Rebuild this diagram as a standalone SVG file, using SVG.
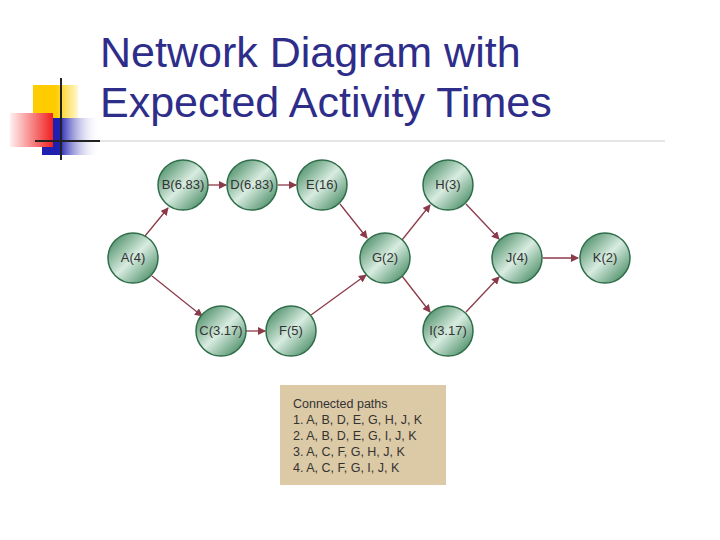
<svg xmlns="http://www.w3.org/2000/svg" width="720" height="540" viewBox="0 0 720 540">
<style>
.t{font-family:"Liberation Sans",Arial,sans-serif;fill:#333;font-size:13px;text-anchor:middle}
.c{fill:url(#g);stroke:#2f6e4a;stroke-width:1.5}
.e{stroke:#8b3a4a;stroke-width:1.3;fill:none;marker-end:url(#m)}
.p{font-family:"Liberation Sans",Arial,sans-serif;fill:#333;font-size:12.5px}
</style>
<defs>
<linearGradient id="g" x1="0" y1="0" x2="1" y2="1">
<stop offset="0" stop-color="#2e7a4e"/><stop offset="0.5" stop-color="#d8ece0"/><stop offset="1" stop-color="#2e7a4e"/></linearGradient>
<linearGradient id="rd" x1="1" y1="0" x2="0" y2="0"><stop offset="0" stop-color="#f02020"/><stop offset="1" stop-color="#fff0f0"/></linearGradient>
<linearGradient id="bl" x1="0" y1="0" x2="1" y2="0"><stop offset="0.3" stop-color="#2020b0"/><stop offset="1" stop-color="#fff" stop-opacity="0"/></linearGradient>
<linearGradient id="yl" x1="0" y1="0" x2="1" y2="0"><stop offset="0.5" stop-color="#ffcc00"/><stop offset="1" stop-color="#fff8d0"/></linearGradient>
<marker id="m" markerWidth="8" markerHeight="8" refX="7" refY="4" orient="auto" markerUnits="userSpaceOnUse"><path d="M0,0L8,4L0,8z" fill="#8b3a4a"/></marker>
</defs>
<rect x="33" y="85" width="45" height="33" fill="url(#yl)"/>
<rect x="42" y="118" width="58" height="37" fill="url(#bl)"/>
<rect x="10" y="113" width="43" height="34" fill="url(#rd)"/>
<line x1="61" y1="78" x2="61" y2="160" stroke="#222" stroke-width="2"/>
<line x1="35" y1="141" x2="100" y2="141" stroke="#222" stroke-width="2"/>
<line x1="100" y1="141" x2="665" y2="141" stroke="#ccc" stroke-width="1"/>
<text x="100" y="67" font-family="Liberation Sans,Arial,sans-serif" font-size="43" fill="#2e2e8a">Network Diagram with</text>
<text x="100" y="117" font-family="Liberation Sans,Arial,sans-serif" font-size="43" fill="#2e2e8a">Expected Activity Times</text>
<g id="edges">
<path class="e" d="M145,236L168,208"/>
<path class="e" d="M208,185L226,185"/>
<path class="e" d="M278,185L296,185"/>
<path class="e" d="M340,204L367,238"/>
<path class="e" d="M152,276L202,316"/>
<path class="e" d="M246,331L265,331"/>
<path class="e" d="M311,315L366,275"/>
<path class="e" d="M402,240L430,205"/>
<path class="e" d="M402,276L430,312"/>
<path class="e" d="M466,204L499,239"/>
<path class="e" d="M466,312L499,277"/>
<path class="e" d="M543,258L578,258"/>
</g>
<g id="A"><circle class="c" cx="133" cy="258" r="25"/><text class="t" x="133" y="262">A(4)</text></g>
<g id="B"><circle class="c" cx="183" cy="185" r="25"/><text class="t" x="183" y="189">B(6.83)</text></g>
<g id="D"><circle class="c" cx="252" cy="185" r="25"/><text class="t" x="252" y="189">D(6.83)</text></g>
<g id="E"><circle class="c" cx="322" cy="185" r="25"/><text class="t" x="322" y="189">E(16)</text></g>
<g id="G"><circle class="c" cx="385" cy="258" r="25"/><text class="t" x="385" y="262">G(2)</text></g>
<g id="H"><circle class="c" cx="448" cy="185" r="25"/><text class="t" x="448" y="189">H(3)</text></g>
<g id="J"><circle class="c" cx="517" cy="258" r="25"/><text class="t" x="517" y="262">J(4)</text></g>
<g id="K"><circle class="c" cx="605" cy="258" r="25"/><text class="t" x="605" y="262">K(2)</text></g>
<g id="C"><circle class="c" cx="221" cy="331" r="25"/><text class="t" x="221" y="335">C(3.17)</text></g>
<g id="F"><circle class="c" cx="291" cy="331" r="25"/><text class="t" x="291" y="335">F(5)</text></g>
<g id="I"><circle class="c" cx="448" cy="331" r="25"/><text class="t" x="448" y="335">I(3.17)</text></g>
<g id="paths">
<rect x="280" y="385" width="166" height="100" fill="#dcc9a6"/>
<text class="p" x="293" y="408">Connected paths</text>
<text class="p" x="293" y="424">1. A, B, D, E, G, H, J, K</text>
<text class="p" x="293" y="440">2. A, B, D, E, G, I, J, K</text>
<text class="p" x="293" y="456">3. A, C, F, G, H, J, K</text>
<text class="p" x="293" y="472">4. A, C, F, G, I, J, K</text>
</g>
</svg>
